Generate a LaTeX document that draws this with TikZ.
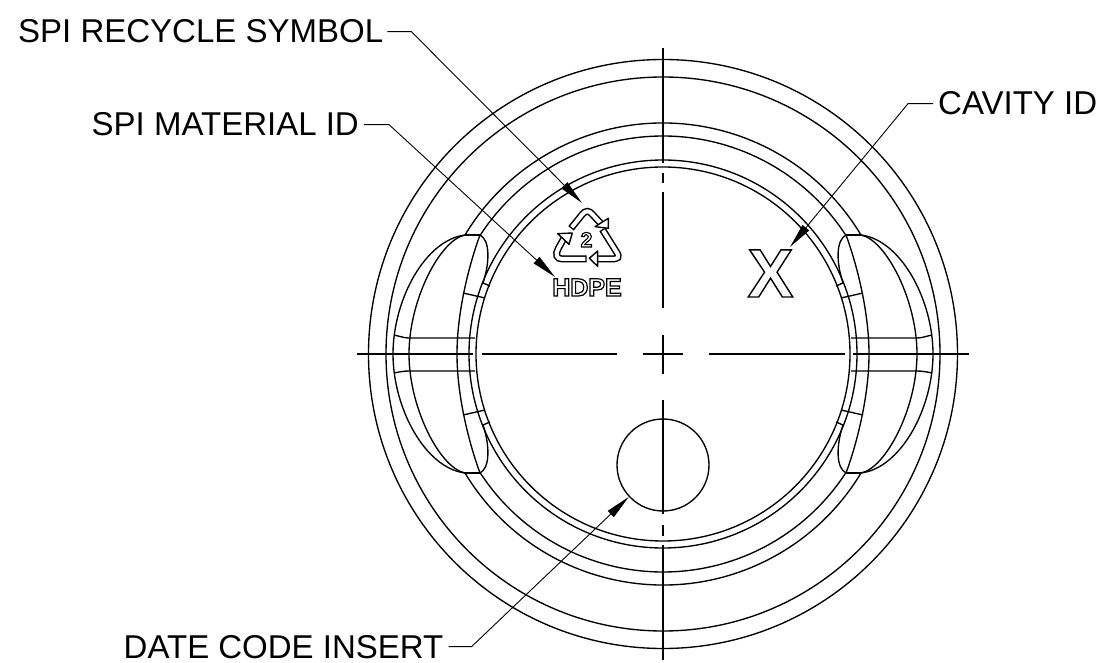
\documentclass[tikz,border=0pt]{standalone}
\usepackage{fontspec}
\setmainfont{Liberation Sans}
\usetikzlibrary{arrows.meta}
\newcommand{\outlinedtext}[2]{\special{pdf:code 1 Tr #1 w}#2\special{pdf:code 0 Tr}}
\tikzset{
  part/.style={line width=1.35pt,draw=black},
  centre/.style={line width=1.25pt,draw=black},
  leader/.style={line width=0.9pt,draw=black,-{Triangle[length=25pt,width=8.5pt]}},
  lab/.style={inner sep=0pt,font=\fontsize{33pt}{33pt}\selectfont,anchor=base west},
}
\begin{document}
\begin{tikzpicture}[x=1pt,y=-1pt]
\useasboundingbox (0,0) rectangle (1104,663);
\def\cx{663}\def\cy{354}
% rings
\foreach \r in {294.5,277,194,187}{\draw[part] (\cx,\cy) circle[radius=\r];}
\foreach \r/\a in {231/31,218/33}{
  \draw[part] ({\cx+\r*cos(\a)},{\cy-\r*sin(\a)}) arc[start angle=-\a,end angle=\a-180,radius=\r];
  \draw[part] ({\cx-\r*cos(\a)},{\cy+\r*sin(\a)}) arc[start angle=180-\a,end angle=\a,radius=\r];
}
% lugs
\foreach \s/\o in {1/0,-1/1326}{
\begin{scope}[x=\s pt,xshift=\o pt]
 \draw[part] (465,235) .. controls (425,240) and (393,300) .. (393,354) .. controls (393,408) and (425,468) .. (465,473);
 \draw[part] (465,235) .. controls (440,240) and (409,300) .. (409,354) .. controls (409,408) and (440,468) .. (465,473);
 \draw[part] (480,235) .. controls (470,262) and (457,310) .. (457,354) .. controls (457,398) and (470,446) .. (480,473);
 \draw[part] (480,235) .. controls (490,240) and (490,262) .. (483,283);
 \draw[part] (480,473) .. controls (490,468) and (490,446) .. (483,425);
 \draw[line width=2pt] (465,235) -- (480,235);
 \draw[line width=2pt] (465,473) -- (480,473);
 \draw[part] (463,293) -- (485,298);
 \draw[part] (483,283) -- (490,286);
 \draw[part] (463,415) -- (485,410);
 \draw[part] (483,425) -- (490,422);
 \draw[part] (394,335) .. controls (399,336) and (404,338) .. (409,338) -- (475,338);
 \draw[part] (394,373) .. controls (399,372) and (404,371) .. (409,371) -- (475,371);
\end{scope}}
% date code circle
\node[circle,part,minimum size=92pt,inner sep=0pt] (dc) at (663,465) {};
% centre lines
\draw[centre] (357,354) -- (473,354) (482,354) -- (617,354) (643,354) -- (683,354) (709,354) -- (845,354) (853,354) -- (969,354);
\draw[centre] (663,48) -- (663,163) (663,173) -- (663,183) (663,192) -- (663,308) (663,335) -- (663,374) (663,400) -- (663,514) (663,525) -- (663,536) (663,545) -- (663,660);
% recycle symbol
\begin{scope}[shift={(545,195)},x=0.3333pt,y=-0.3333pt]
 \def\tubeA{(78,100) -- (112,58) .. controls (122,46) and (132,46) .. (142,58) -- (168,86)}
 \def\tubeB{(172,103) -- (214,170) .. controls (226,188) and (218,192) .. (200,192) -- (158,192)}
 \def\tubeC{(125,192) -- (52,192) .. controls (34,192) and (30,178) .. (40,160) -- (58,128)}
 \foreach \t in {\tubeA,\tubeB,\tubeC}{
  \draw[line width=7pt] \t;
  \draw[line width=4pt,white,shorten <=1.4pt] \t;
 }
 \draw[line width=1.4pt,fill=white,line join=round] (190,70) -- (190,100) -- (150,95) -- cycle;
 \draw[line width=1.4pt,fill=white,line join=round] (158,168) -- (133,190) -- (158,214) -- cycle;
 \draw[line width=1.4pt,fill=white,line join=round] (38,116) -- (82,114) -- (72,148) -- cycle;
\end{scope}
\node[inner sep=0pt,anchor=base,font=\fontsize{21pt}{21pt}\selectfont\bfseries] (two) at (586.5,247) {\outlinedtext{1.1}{2}};
\node[inner sep=0pt,anchor=base,font=\fontsize{25pt}{25pt}\selectfont\bfseries] (hdpe) at (587,296) {\outlinedtext{1.2}{HDPE}};
\node[inner sep=0pt,anchor=base,font=\fontsize{68.6pt}{69pt}\selectfont\bfseries] (xmark) at (770.5,297) {\outlinedtext{1.4}{X}};
% labels
\node[lab] (rec) at (18,43) {SPI RECYCLE SYMBOL};
\node[lab] (mat) at (91.5,136) {SPI MATERIAL ID};
\node[lab] (date) at (123.5,658) {DATE CODE INSERT};
\node[lab] (cav) at (938,115) {CAVITY ID};
\coordinate (rectip) at (582,203);
\coordinate (mattip) at (555,277);
\coordinate (cavtip) at (790,247);
\draw[leader] ([xshift=4pt]rec.east) -- ++(24,0) -- (rectip);
\draw[leader] ([xshift=5pt]mat.east) -- ++(25,0) -- (mattip);
\draw[leader] ([xshift=5pt]date.east) -- ++(23,0) -- (dc.223);
\draw[leader] ([xshift=-5pt]cav.west) -- ++(-25,0) -- (cavtip);
\end{tikzpicture}
\end{document}
